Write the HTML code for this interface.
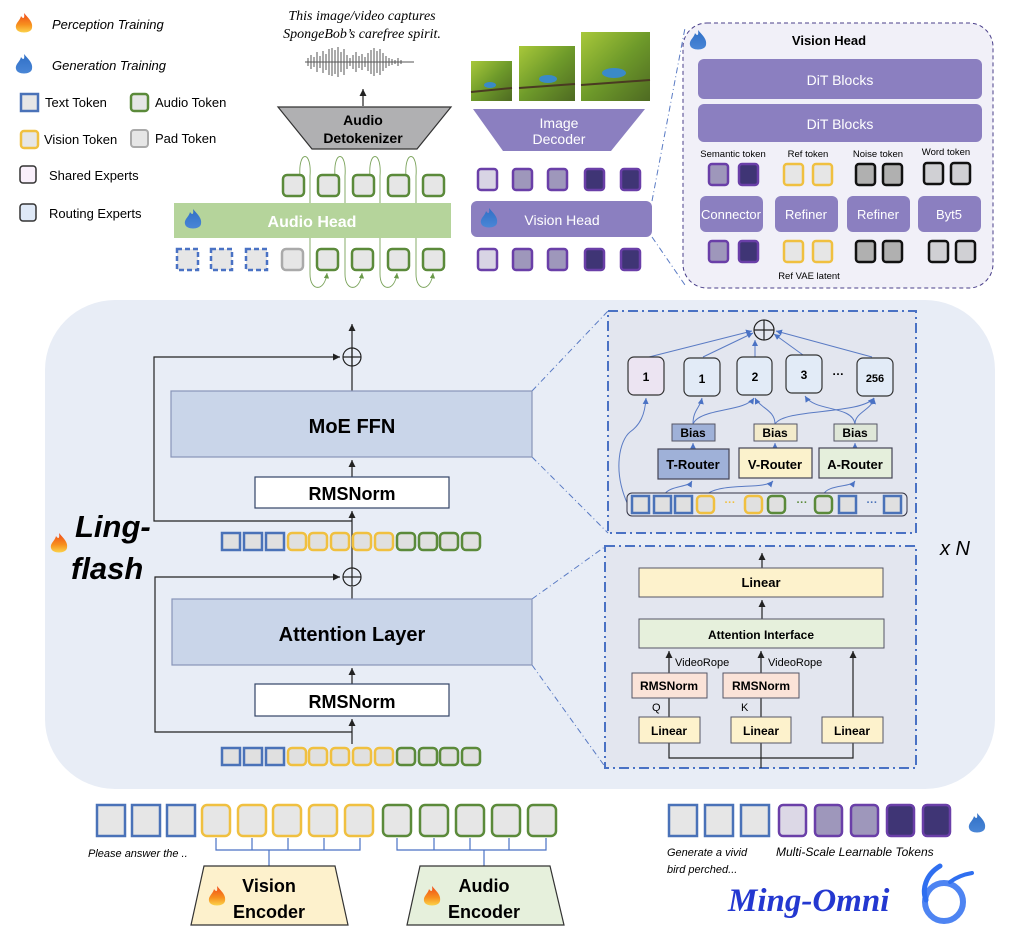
<!DOCTYPE html>
<html><head><meta charset="utf-8"><style>
html,body{margin:0;padding:0;background:#fff}
svg{display:block}
text{font-family:"Liberation Sans",sans-serif}
.b{font-weight:bold}
</style></head><body>
<svg width="1010" height="944" viewBox="0 0 1010 944" xmlns="http://www.w3.org/2000/svg">
<defs>
<linearGradient id="fr" x1="0" y1="0" x2="0" y2="1"><stop offset="0" stop-color="#f04a1a"/><stop offset="0.6" stop-color="#f7901e"/><stop offset="1" stop-color="#fbd24a"/></linearGradient>
<linearGradient id="fb" x1="0" y1="0" x2="0" y2="1"><stop offset="0" stop-color="#2f6fc6"/><stop offset="1" stop-color="#4a86d6"/></linearGradient>
<symbol id="fire" viewBox="-10 -12 20 24" overflow="visible"><path d="M0,-11 C5,-5 9,-2 8,4 C7,10 -7,10 -8,4 C-9,-1 -4,-3 -3,-8 C-1,-5 1,-5 0,-11Z" fill="url(#fr)"/></symbol>
<symbol id="bfire" viewBox="-10 -12 20 24" overflow="visible"><path d="M0,-11 C5,-5 9,-2 8,4 C7,10 -7,10 -8,4 C-9,-1 -4,-3 -3,-8 C-1,-5 1,-5 0,-11Z" fill="url(#fb)"/></symbol>
<linearGradient id="g1" x1="0" y1="0" x2="1" y2="1"><stop offset="0" stop-color="#a8c83a"/><stop offset="0.5" stop-color="#6e9a2a"/><stop offset="1" stop-color="#4e6a22"/></linearGradient>
<marker id="ah" markerWidth="8" markerHeight="8" refX="6" refY="3" orient="auto"><path d="M0,0 L6,3 L0,6Z" fill="#222"/></marker>
<marker id="ab" markerWidth="8" markerHeight="8" refX="6" refY="3" orient="auto"><path d="M0,0 L6,3 L0,6Z" fill="#4a72c4"/></marker>
<marker id="ag" markerWidth="8" markerHeight="8" refX="6" refY="3" orient="auto"><path d="M0,0 L6,3 L0,6Z" fill="#6a9a4a"/></marker>
</defs>

<!-- Legend -->
<use href="#fire" x="14" y="12" width="20" height="24"/>
<text x="52" y="29" font-size="13" font-style="italic">Perception Training</text>
<use href="#bfire" x="14" y="53" width="20" height="24"/>
<text x="52" y="70" font-size="13" font-style="italic">Generation Training</text>
<rect x="21" y="94" width="17" height="17" fill="#e6e6e6" stroke="#4a72b8" stroke-width="2.5"/>
<text x="45" y="107" font-size="13">Text Token</text>
<rect x="131" y="94" width="17" height="17" rx="3" fill="#e6e6e6" stroke="#5b8a3a" stroke-width="2.5"/>
<text x="155" y="107" font-size="13">Audio Token</text>
<rect x="21" y="131" width="17" height="17" rx="3" fill="#e6e6e6" stroke="#f0c040" stroke-width="2.5"/>
<text x="44" y="144" font-size="13">Vision Token</text>
<rect x="131" y="130" width="17" height="17" rx="3" fill="#e6e6e6" stroke="#aaa" stroke-width="2"/>
<text x="155" y="143" font-size="13">Pad Token</text>
<rect x="20" y="166" width="16" height="17" rx="3" fill="#f9f0fb" stroke="#333" stroke-width="1.5"/>
<text x="49" y="180" font-size="13">Shared Experts</text>
<rect x="20" y="204" width="16" height="17" rx="3" fill="#dfe9f7" stroke="#333" stroke-width="1.5"/>
<text x="49" y="218" font-size="13">Routing Experts</text>

<!-- Audio caption / waveform -->
<text x="362" y="20" font-size="14" font-style="italic" text-anchor="middle" font-family="Liberation Serif,serif" style="font-family:'Liberation Serif',serif">This image/video captures</text>
<text x="362" y="38" font-size="14" font-style="italic" text-anchor="middle" style="font-family:'Liberation Serif',serif">SpongeBob’s carefree spirit.</text>
<g stroke="#555" stroke-width="1">
<path d="M305,62 L414,62"/>
<path d="M308,58v8 M311,55v14 M314,57v10 M317,52v20 M320,56v12 M323,51v22 M326,54v16 M329,49v26 M332,48v28 M335,50v24 M338,47v30 M341,52v20 M344,49v26 M347,55v14 M350,58v8 M353,55v14 M356,52v20 M359,56v12 M362,54v16 M365,57v10 M368,53v18 M371,50v24 M374,48v28 M377,51v22 M380,49v26 M383,53v18 M386,56v12 M389,58v8 M392,59v6 M395,60v4 M398,58v8 M401,60v4"/>
</g>
<line x1="363" y1="106" x2="363" y2="89" stroke="#222" stroke-width="1.2" marker-end="url(#ah)"/>
<polygon points="278,107 451,107 417,149 312,149" fill="#b0b0b2" stroke="#333" stroke-width="1.2"/>
<text x="363" y="125" font-size="14" class="b" text-anchor="middle">Audio</text>
<text x="363" y="143" font-size="14" class="b" text-anchor="middle">Detokenizer</text>

<!-- images -->
<rect x="471" y="61" width="41" height="40" fill="url(#g1)"/>
<rect x="519" y="46" width="56" height="55" fill="url(#g1)"/>
<rect x="581" y="32" width="69" height="69" fill="url(#g1)"/>
<g fill="#3a8ac8"><ellipse cx="490" cy="85" rx="6" ry="3"/><ellipse cx="548" cy="79" rx="9" ry="4"/><ellipse cx="614" cy="73" rx="12" ry="5"/></g>
<g stroke="#4a3a22" stroke-width="2"><line x1="471" y1="92" x2="512" y2="88"/><line x1="519" y1="88" x2="575" y2="84"/><line x1="581" y1="85" x2="650" y2="80"/></g>
<polygon points="473,109 645,109 611,151 503,151" fill="#8b7fc0"/>
<text x="559" y="128" font-size="14" fill="#fff" text-anchor="middle">Image</text>
<text x="559" y="144" font-size="14" fill="#fff" text-anchor="middle">Decoder</text>

<!-- audio head -->
<g stroke="#7aa35a" stroke-width="0.9" fill="none">
<path d="M300,176 C298,150 312,150 310,176 L310,274 C310,292 325,292 327,273" marker-end="url(#ag)"/>
<path d="M335,176 C333,150 347,150 345,176 L345,274 C345,292 360,292 362,273" marker-end="url(#ag)"/>
<path d="M370,176 C368,150 382,150 380,176 L380,274 C380,292 395,292 397,273" marker-end="url(#ag)"/>
<path d="M406,176 C404,150 418,150 416,176 L416,274 C416,292 431,292 433,273" marker-end="url(#ag)"/>
</g>
<g fill="#e6e6e6" stroke="#5b8a3a" stroke-width="2.5">
<rect x="283" y="175" width="21" height="21" rx="4"/><rect x="318" y="175" width="21" height="21" rx="4"/><rect x="353" y="175" width="21" height="21" rx="4"/><rect x="388" y="175" width="21" height="21" rx="4"/><rect x="423" y="175" width="21" height="21" rx="4"/>
</g>
<rect x="174" y="203" width="277" height="35" fill="#b5d49b"/>
<use href="#bfire" x="183" y="208" width="20" height="24"/>
<text x="312" y="227" font-size="16" class="b" fill="#fff" text-anchor="middle">Audio Head</text>
<g fill="#e6e6e6" stroke="#4a72c4" stroke-width="2.5" stroke-dasharray="5,3">
<rect x="177" y="249" width="21" height="21"/><rect x="211" y="249" width="21" height="21"/><rect x="246" y="249" width="21" height="21"/>
</g>
<rect x="282" y="249" width="21" height="21" rx="4" fill="#e6e6e6" stroke="#aaa" stroke-width="2.5"/>
<g fill="#e6e6e6" stroke="#5b8a3a" stroke-width="2.5">
<rect x="317" y="249" width="21" height="21" rx="4"/><rect x="352" y="249" width="21" height="21" rx="4"/><rect x="388" y="249" width="21" height="21" rx="4"/><rect x="423" y="249" width="21" height="21" rx="4"/>
</g>

<!-- vision head small -->
<g stroke="#6a3fa8" stroke-width="2.5">
<rect x="478" y="169" width="19" height="21" rx="3" fill="#d8d4e4"/><rect x="513" y="169" width="19" height="21" rx="3" fill="#9e97bb"/><rect x="548" y="169" width="19" height="21" rx="3" fill="#9e97bb"/><rect x="585" y="169" width="19" height="21" rx="3" fill="#3f3575"/><rect x="621" y="169" width="19" height="21" rx="3" fill="#3f3575"/>
<rect x="478" y="249" width="19" height="21" rx="3" fill="#d8d4e4"/><rect x="513" y="249" width="19" height="21" rx="3" fill="#9e97bb"/><rect x="548" y="249" width="19" height="21" rx="3" fill="#9e97bb"/><rect x="585" y="249" width="19" height="21" rx="3" fill="#3f3575"/><rect x="621" y="249" width="19" height="21" rx="3" fill="#3f3575"/>
</g>
<rect x="471" y="201" width="181" height="36" rx="6" fill="#8b7fc0"/>
<use href="#bfire" x="479" y="207" width="20" height="24"/>
<text x="562" y="225" font-size="14" fill="#fff" text-anchor="middle">Vision Head</text>
<g stroke="#5a7bc4" stroke-width="1" stroke-dasharray="6,3,1,3" fill="none">
<line x1="652" y1="201" x2="685" y2="28"/><line x1="652" y1="237" x2="685" y2="285"/>
</g>

<!-- vision head panel -->
<rect x="683" y="23" width="310" height="265" rx="24" fill="#f1f0f8" stroke="#4a3f8a" stroke-width="1" stroke-dasharray="4,3"/>
<use href="#bfire" x="688" y="29" width="20" height="24"/>
<text x="829" y="45" font-size="13" class="b" text-anchor="middle">Vision Head</text>
<rect x="698" y="59" width="284" height="40" rx="6" fill="#8b7fc0"/>
<text x="840" y="85" font-size="14" fill="#fff" text-anchor="middle">DiT Blocks</text>
<rect x="698" y="104" width="284" height="38" rx="6" fill="#8b7fc0"/>
<text x="840" y="129" font-size="14" fill="#fff" text-anchor="middle">DiT Blocks</text>
<g font-size="9.5" text-anchor="middle"><text x="733" y="157">Semantic token</text><text x="808" y="157">Ref token</text><text x="878" y="157">Noise token</text><text x="946" y="155">Word token</text><text x="809" y="279">Ref VAE latent</text></g>
<g stroke-width="2.5">
<rect x="709" y="164" width="19" height="21" rx="3" fill="#9e97bb" stroke="#6a3fa8"/><rect x="739" y="164" width="19" height="21" rx="3" fill="#3f3575" stroke="#6a3fa8"/>
<rect x="784" y="164" width="19" height="21" rx="3" fill="#e6e6e6" stroke="#f0c040"/><rect x="813" y="164" width="19" height="21" rx="3" fill="#e6e6e6" stroke="#f0c040"/>
<rect x="856" y="164" width="19" height="21" rx="3" fill="#b0b0b0" stroke="#111"/><rect x="883" y="164" width="19" height="21" rx="3" fill="#b0b0b0" stroke="#111"/>
<rect x="924" y="163" width="19" height="21" rx="3" fill="#d0d0d4" stroke="#111"/><rect x="951" y="163" width="19" height="21" rx="3" fill="#d0d0d4" stroke="#111"/>
<rect x="709" y="241" width="19" height="21" rx="3" fill="#9e97bb" stroke="#6a3fa8"/><rect x="739" y="241" width="19" height="21" rx="3" fill="#3f3575" stroke="#6a3fa8"/>
<rect x="784" y="241" width="19" height="21" rx="3" fill="#e6e6e6" stroke="#f0c040"/><rect x="813" y="241" width="19" height="21" rx="3" fill="#e6e6e6" stroke="#f0c040"/>
<rect x="856" y="241" width="19" height="21" rx="3" fill="#b0b0b0" stroke="#111"/><rect x="883" y="241" width="19" height="21" rx="3" fill="#b0b0b0" stroke="#111"/>
<rect x="929" y="241" width="19" height="21" rx="3" fill="#d0d0d4" stroke="#111"/><rect x="956" y="241" width="19" height="21" rx="3" fill="#d0d0d4" stroke="#111"/>
</g>
<g fill="#8b7fc0"><rect x="700" y="196" width="63" height="36" rx="6"/><rect x="775" y="196" width="63" height="36" rx="6"/><rect x="847" y="196" width="63" height="36" rx="6"/><rect x="918" y="196" width="63" height="36" rx="6"/></g>
<g font-size="13" fill="#fff" text-anchor="middle"><text x="731" y="219">Connector</text><text x="806" y="219">Refiner</text><text x="878" y="219">Refiner</text><text x="949" y="219">Byt5</text></g>

<!-- main background -->
<rect x="45" y="300" width="950" height="489" rx="70" fill="#e8edf6"/>

<!-- MoE detail panel -->
<rect x="608" y="311" width="308" height="222" fill="#e3e6ef" stroke="#4a72c4" stroke-width="2" stroke-dasharray="10,4,2,4"/>
<g stroke="#5a7bc4" stroke-width="1" stroke-dasharray="6,3,1,3"><line x1="532" y1="391" x2="608" y2="311"/><line x1="532" y1="457" x2="608" y2="533"/><line x1="532" y1="599" x2="606" y2="546"/><line x1="532" y1="665" x2="606" y2="768"/></g>
<g stroke="#5a7bc4" stroke-width="1" fill="none">
<line x1="649" y1="357" x2="752" y2="331" marker-end="url(#ab)"/><line x1="703" y1="357" x2="753" y2="333" marker-end="url(#ab)"/><line x1="755" y1="357" x2="755" y2="340" marker-end="url(#ab)"/><line x1="803" y1="355" x2="774" y2="334" marker-end="url(#ab)"/><line x1="872" y1="357" x2="776" y2="331" marker-end="url(#ab)"/>
<path d="M628,505 C612,470 620,440 630,432 C640,425 645,415 646,398" marker-end="url(#ab)"/>
<path d="M693,424 C693,410 700,408 702,398" marker-end="url(#ab)"/>
<path d="M693,424 C700,408 745,412 754,398" marker-end="url(#ab)"/>
<path d="M775,424 C775,410 760,408 755,398" marker-end="url(#ab)"/>
<path d="M775,424 C785,408 860,415 874,398" marker-end="url(#ab)"/>
<path d="M855,424 C852,405 815,412 805,396" marker-end="url(#ab)"/>
<path d="M855,424 C855,412 872,410 874,398" marker-end="url(#ab)"/>
<line x1="693" y1="449" x2="693" y2="443" marker-end="url(#ab)"/><line x1="775" y1="449" x2="775" y2="443" marker-end="url(#ab)"/><line x1="855" y1="449" x2="855" y2="443" marker-end="url(#ab)"/>
<path d="M664,495 C670,485 688,488 692,481" marker-end="url(#ab)"/>
<path d="M706,495 C720,482 765,490 773,481" marker-end="url(#ab)"/>
<path d="M823,495 C828,484 850,488 855,481" marker-end="url(#ab)"/>
</g>
<circle cx="764" cy="330" r="10" fill="none" stroke="#222" stroke-width="1.2"/><path d="M754,330h20M764,320v20" stroke="#222" stroke-width="1.2"/>
<rect x="628" y="357" width="36" height="38" rx="6" fill="#ece4f2" stroke="#333" stroke-width="1.2"/>
<g fill="#e2ebf7" stroke="#333" stroke-width="1.2"><rect x="684" y="358" width="36" height="38" rx="6"/><rect x="737" y="357" width="35" height="38" rx="6"/><rect x="786" y="355" width="36" height="38" rx="6"/><rect x="857" y="358" width="36" height="38" rx="6"/></g>
<g font-size="12" class="b" text-anchor="middle"><text x="646" y="381">1</text><text x="702" y="383">1</text><text x="755" y="381">2</text><text x="804" y="379">3</text><text x="875" y="382" font-size="11">256</text><text x="838" y="375">…</text></g>
<rect x="672" y="424" width="43" height="17" fill="#9fb1d8" stroke="#556" stroke-width="1"/>
<rect x="754" y="424" width="43" height="17" fill="#f3ebcb" stroke="#556" stroke-width="1"/>
<rect x="834" y="424" width="43" height="17" fill="#dfe7d8" stroke="#556" stroke-width="1"/>
<g font-size="12" class="b" text-anchor="middle"><text x="693" y="437">Bias</text><text x="775" y="437">Bias</text><text x="855" y="437">Bias</text></g>
<rect x="658" y="449" width="71" height="30" fill="#9fb1d8" stroke="#445" stroke-width="1.2"/>
<rect x="739" y="448" width="73" height="30" fill="#fbf2cc" stroke="#445" stroke-width="1.2"/>
<rect x="819" y="448" width="73" height="30" fill="#e5efdc" stroke="#445" stroke-width="1.2"/>
<g font-size="13" class="b" text-anchor="middle"><text x="693" y="469">T-Router</text><text x="775" y="469">V-Router</text><text x="855" y="469">A-Router</text></g>
<rect x="627" y="493" width="280" height="23" rx="5" fill="#e3e6ef" stroke="#334" stroke-width="1"/>
<g fill="#e0e0e0" stroke-width="2.5">
<rect x="632" y="496" width="17" height="17" stroke="#4a72b8"/><rect x="654" y="496" width="17" height="17" stroke="#4a72b8"/><rect x="675" y="496" width="17" height="17" stroke="#4a72b8"/>
<rect x="697" y="496" width="17" height="17" rx="4" stroke="#f0c040"/><rect x="745" y="496" width="17" height="17" rx="4" stroke="#f0c040"/>
<rect x="768" y="496" width="17" height="17" rx="4" stroke="#5b8a3a"/><rect x="815" y="496" width="17" height="17" rx="4" stroke="#5b8a3a"/>
<rect x="839" y="496" width="17" height="17" stroke="#4a72b8"/><rect x="884" y="496" width="17" height="17" stroke="#4a72b8"/>
</g>
<g font-size="11" class="b" text-anchor="middle"><text x="730" y="506" fill="#f0c040">···</text><text x="802" y="506" fill="#5b8a3a">···</text><text x="872" y="506" fill="#4a72b8">···</text></g>

<!-- attention panel -->
<rect x="605" y="546" width="311" height="222" fill="#e3e6ef" stroke="#4a72c4" stroke-width="2" stroke-dasharray="10,4,2,4"/>
<g stroke="#222" stroke-width="1.2" fill="none">
<line x1="762" y1="568" x2="762" y2="553" marker-end="url(#ah)"/>
<line x1="762" y1="619" x2="762" y2="600" marker-end="url(#ah)"/>
<line x1="669" y1="673" x2="669" y2="651" marker-end="url(#ah)"/>
<line x1="761" y1="673" x2="761" y2="651" marker-end="url(#ah)"/>
<line x1="853" y1="717" x2="853" y2="651" marker-end="url(#ah)"/>
<line x1="669" y1="717" x2="669" y2="698"/><line x1="761" y1="717" x2="761" y2="698"/>
<path d="M669,743 V758 H853 V743 M761,743 V768"/>
</g>
<rect x="639" y="568" width="244" height="29" fill="#fdf2cc" stroke="#556" stroke-width="1"/>
<text x="761" y="587" font-size="13" class="b" text-anchor="middle">Linear</text>
<rect x="639" y="619" width="245" height="29" fill="#e6f0dc" stroke="#556" stroke-width="1"/>
<text x="761" y="639" font-size="12" class="b" text-anchor="middle">Attention Interface</text>
<g font-size="11"><text x="675" y="666">VideoRope</text><text x="768" y="666">VideoRope</text><text x="652" y="711">Q</text><text x="741" y="711">K</text></g>
<rect x="632" y="673" width="75" height="25" fill="#fbe3d8" stroke="#556" stroke-width="1"/>
<rect x="723" y="673" width="76" height="25" fill="#fbe3d8" stroke="#556" stroke-width="1"/>
<g font-size="12" class="b" text-anchor="middle"><text x="669" y="690">RMSNorm</text><text x="761" y="690">RMSNorm</text></g>
<g fill="#fdf2cc" stroke="#556" stroke-width="1"><rect x="639" y="717" width="61" height="26"/><rect x="731" y="717" width="60" height="26"/><rect x="822" y="717" width="61" height="26"/></g>
<g font-size="12" class="b" text-anchor="middle"><text x="669" y="735">Linear</text><text x="761" y="735">Linear</text><text x="852" y="735">Linear</text></g>

<!-- main block -->
<g stroke="#222" stroke-width="1.2" fill="none">
<line x1="352" y1="391" x2="352" y2="324" marker-end="url(#ah)"/>
<path d="M352,521 H154 V357 H340" marker-end="url(#ah)"/>
<line x1="352" y1="477" x2="352" y2="460" marker-end="url(#ah)"/>
<line x1="352" y1="568" x2="352" y2="511" marker-end="url(#ah)"/>
<path d="M352,732 H155 V577 H340" marker-end="url(#ah)"/>
<line x1="352" y1="599" x2="352" y2="587"/>
<line x1="352" y1="684" x2="352" y2="668" marker-end="url(#ah)"/>
<line x1="352" y1="744" x2="352" y2="719" marker-end="url(#ah)"/>
</g>
<circle cx="352" cy="357" r="9" fill="none" stroke="#222" stroke-width="1.2"/><path d="M343,357h18M352,348v18" stroke="#222" stroke-width="1.2"/>
<circle cx="352" cy="577" r="9" fill="none" stroke="#222" stroke-width="1.2"/><path d="M343,577h18M352,568v18" stroke="#222" stroke-width="1.2"/>
<rect x="171" y="391" width="361" height="66" fill="#c9d5e9" stroke="#8895b8" stroke-width="1.2"/>
<text x="352" y="433" font-size="20" class="b" text-anchor="middle">MoE FFN</text>
<rect x="255" y="477" width="194" height="31" fill="#fff" stroke="#334466" stroke-width="1.2"/>
<text x="352" y="500" font-size="18" class="b" text-anchor="middle">RMSNorm</text>
<rect x="172" y="599" width="360" height="66" fill="#c9d5e9" stroke="#8895b8" stroke-width="1.2"/>
<text x="352" y="641" font-size="20" class="b" text-anchor="middle">Attention Layer</text>
<rect x="255" y="684" width="194" height="32" fill="#fff" stroke="#334466" stroke-width="1.2"/>
<text x="352" y="708" font-size="18" class="b" text-anchor="middle">RMSNorm</text>
<g fill="#e0e0e0" stroke-width="2.5">
<rect x="222" y="533" width="18" height="17" stroke="#4a72b8"/><rect x="244" y="533" width="18" height="17" stroke="#4a72b8"/><rect x="266" y="533" width="18" height="17" stroke="#4a72b8"/>
<rect x="288" y="533" width="18" height="17" rx="4" stroke="#f0c040"/><rect x="309" y="533" width="18" height="17" rx="4" stroke="#f0c040"/><rect x="331" y="533" width="18" height="17" rx="4" stroke="#f0c040"/><rect x="353" y="533" width="18" height="17" rx="4" stroke="#f0c040"/><rect x="375" y="533" width="18" height="17" rx="4" stroke="#f0c040"/>
<rect x="397" y="533" width="18" height="17" rx="4" stroke="#5b8a3a"/><rect x="419" y="533" width="18" height="17" rx="4" stroke="#5b8a3a"/><rect x="440" y="533" width="18" height="17" rx="4" stroke="#5b8a3a"/><rect x="462" y="533" width="18" height="17" rx="4" stroke="#5b8a3a"/>
<rect x="222" y="748" width="18" height="17" stroke="#4a72b8"/><rect x="244" y="748" width="18" height="17" stroke="#4a72b8"/><rect x="266" y="748" width="18" height="17" stroke="#4a72b8"/>
<rect x="288" y="748" width="18" height="17" rx="4" stroke="#f0c040"/><rect x="309" y="748" width="18" height="17" rx="4" stroke="#f0c040"/><rect x="331" y="748" width="18" height="17" rx="4" stroke="#f0c040"/><rect x="353" y="748" width="18" height="17" rx="4" stroke="#f0c040"/><rect x="375" y="748" width="18" height="17" rx="4" stroke="#f0c040"/>
<rect x="397" y="748" width="18" height="17" rx="4" stroke="#5b8a3a"/><rect x="419" y="748" width="18" height="17" rx="4" stroke="#5b8a3a"/><rect x="440" y="748" width="18" height="17" rx="4" stroke="#5b8a3a"/><rect x="462" y="748" width="18" height="17" rx="4" stroke="#5b8a3a"/>
</g>
<use href="#fire" x="49" y="532" width="20" height="24"/>
<text x="75" y="537" font-size="31" font-weight="bold" font-style="italic">Ling-</text>
<text x="71" y="579" font-size="31" font-weight="bold" font-style="italic">flash</text>
<text x="940" y="555" font-size="20" font-style="italic">x N</text>

<!-- bottom inputs -->
<g stroke="#4a72c4" stroke-width="1.2" fill="none">
<path d="M216,838 V850 H360 V838 M252,850 V838 M288,850 V838 M324,850 V838 M269,850 V866"/>
<path d="M397,838 V850 H546 V838 M434,850 V838 M470,850 V838 M509,850 V838 M484,850 V866"/>
</g>
<g fill="#e6e6e6" stroke-width="2.5">
<rect x="97" y="805" width="28" height="31" stroke="#4a72b8"/><rect x="132" y="805" width="28" height="31" stroke="#4a72b8"/><rect x="167" y="805" width="28" height="31" stroke="#4a72b8"/>
<rect x="202" y="805" width="28" height="31" rx="5" stroke="#f0c040"/><rect x="238" y="805" width="28" height="31" rx="5" stroke="#f0c040"/><rect x="273" y="805" width="28" height="31" rx="5" stroke="#f0c040"/><rect x="309" y="805" width="28" height="31" rx="5" stroke="#f0c040"/><rect x="345" y="805" width="28" height="31" rx="5" stroke="#f0c040"/>
<rect x="383" y="805" width="28" height="31" rx="5" stroke="#5b8a3a"/><rect x="420" y="805" width="28" height="31" rx="5" stroke="#5b8a3a"/><rect x="456" y="805" width="28" height="31" rx="5" stroke="#5b8a3a"/><rect x="492" y="805" width="28" height="31" rx="5" stroke="#5b8a3a"/><rect x="528" y="805" width="28" height="31" rx="5" stroke="#5b8a3a"/>
<rect x="669" y="805" width="28" height="31" stroke="#4a72b8"/><rect x="705" y="805" width="28" height="31" stroke="#4a72b8"/><rect x="741" y="805" width="28" height="31" stroke="#4a72b8"/>
</g>
<g stroke="#6a3fa8" stroke-width="2.5">
<rect x="779" y="805" width="27" height="31" rx="4" fill="#dcd8e6"/><rect x="815" y="805" width="27" height="31" rx="4" fill="#9e97bb"/><rect x="851" y="805" width="27" height="31" rx="4" fill="#9e97bb"/><rect x="887" y="805" width="27" height="31" rx="4" fill="#3f3575"/><rect x="923" y="805" width="27" height="31" rx="4" fill="#3f3575"/>
</g>
<use href="#bfire" x="967" y="812" width="20" height="24"/>
<text x="88" y="857" font-size="11" font-style="italic">Please answer the ..</text>
<text x="667" y="856" font-size="11" font-style="italic">Generate  a vivid</text>
<text x="667" y="873" font-size="11" font-style="italic">bird perched...</text>
<text x="776" y="856" font-size="12" font-style="italic">Multi-Scale Learnable Tokens</text>
<polygon points="204,866 335,866 348,925 191,925" fill="#fdf1cc" stroke="#333" stroke-width="1.2"/>
<use href="#fire" x="207" y="885" width="20" height="24"/>
<text x="269" y="892" font-size="18" class="b" text-anchor="middle">Vision</text>
<text x="269" y="918" font-size="18" class="b" text-anchor="middle">Encoder</text>
<polygon points="420,866 550,866 564,925 407,925" fill="#e6f0dc" stroke="#333" stroke-width="1.2"/>
<use href="#fire" x="422" y="885" width="20" height="24"/>
<text x="484" y="892" font-size="18" class="b" text-anchor="middle">Audio</text>
<text x="484" y="918" font-size="18" class="b" text-anchor="middle">Encoder</text>
<text x="728" y="911" font-size="33" font-weight="bold" font-style="italic" fill="#2438d0" style="font-family:'Liberation Serif',serif">Ming-Omni</text>
<g fill="none" stroke="#2f6ff0" stroke-linecap="round">
<circle cx="944" cy="902" r="19" stroke-width="6" stroke-opacity="0.85"/>
<path d="M940,866 C925,875 922,890 926,900" stroke-width="5"/>
<path d="M950,882 C958,876 966,874 972,873" stroke-width="4"/>
</g>
</svg>
</body></html>
